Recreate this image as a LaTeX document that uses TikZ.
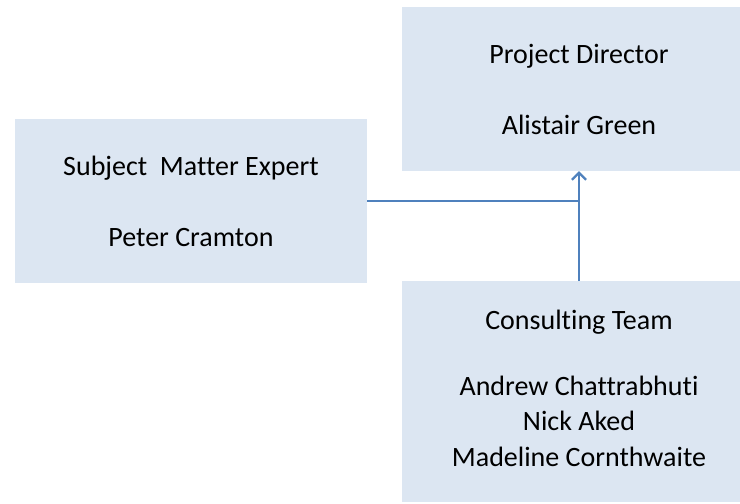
\documentclass[tikz,border=0pt]{standalone}
\usepackage{fontspec}
\setmainfont{Carlito}[Ligatures=NoCommon]
\usetikzlibrary{arrows.meta}
\definecolor{boxfill}{HTML}{DCE6F2}
\definecolor{connblue}{HTML}{4F81BD}
\tikzset{
  box/.style={fill=boxfill, draw=none, inner sep=0pt, align=center,
    font=\fontsize{28}{35.5}\selectfont, text=black},
  conn/.style={draw=connblue, line width=1.3pt},
}
\begin{document}
\begin{tikzpicture}[x=1pt,y=-1pt]
\useasboundingbox (0,0) rectangle (740,504);
\clip (0,0) rectangle (740,504);
\node[box, minimum width=354pt, minimum height=164pt] (pd) at (579,89)
  {Project Director\\[35.5pt]Alistair Green};
\node[box, minimum width=352pt, minimum height=164pt] (sme) at (191,201)
  {Subject~ Matter Expert\\[35.5pt]Peter Cramton};
\node[box, minimum width=354pt, minimum height=221pt] (cons) at (579,391.5)
  {Consulting Team\\[30pt]Andrew Chattrabhuti\\Nick Aked\\Madeline Cornthwaite\\[-29.5pt]\mbox{}};
\coordinate (join) at (sme.east -| pd.south);
\draw[conn] (sme.east) -- (join);
\draw[conn, -{Straight Barb[length=7pt,width=14pt,line width=2.2pt]}] (cons.north) -- (pd.south);
\end{tikzpicture}
\end{document}
